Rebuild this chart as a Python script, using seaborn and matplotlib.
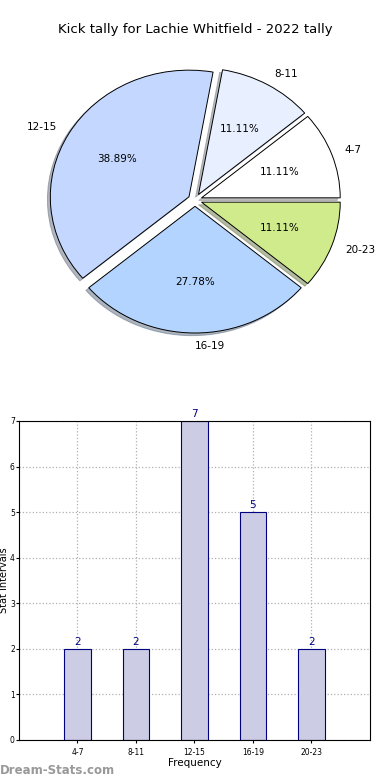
import numpy as np
import pandas as pd
import seaborn as sns
import matplotlib
matplotlib.use("Agg")
import matplotlib.pyplot as plt


title = "Kick tally for Lachie Whitfield - 2022 tally"
intervals = ["4-7", "8-11", "12-15", "16-19", "20-23"]
counts = [2, 2, 7, 5, 2]
slice_colors = ["#ffffff", "#e8f0ff", "#c4d8ff", "#b3d4ff", "#cfeb8b"]

sns.set_style("white")
plt.rcParams["font.family"] = ["DejaVu Sans"]
plt.rcParams["text.color"] = "black"
plt.rcParams["axes.labelcolor"] = "black"
plt.rcParams["xtick.color"] = "black"
plt.rcParams["ytick.color"] = "black"

fig = plt.figure(figsize=(3.9, 7.8), dpi=100)

# pie on top
ax1 = fig.add_axes([0.0555, 0.5406, 0.889, 0.406])
wedges, texts, autotexts = ax1.pie(
    counts, labels=intervals, colors=slice_colors, autopct="%.2f%%",
    explode=[0.05] * len(counts),
    shadow={"ox": -0.015, "oy": -0.015, "shade": 0.5}, startangle=0,
    wedgeprops={"edgecolor": "black", "linewidth": 0.7},
    textprops={"fontsize": 7.5},
)
ax1.set_aspect("auto")
ax1.set_xlim(-1.25, 1.25)
ax1.set_ylim(-1.25, 1.25)

fig.text(0.5, 1 - 30 / 780, title, ha="center", va="center", fontsize=9.5)

# bars below
ax2 = fig.add_axes([0.0487, 0.0513, 0.9, 0.409])
df = pd.DataFrame({"interval": intervals, "count": counts})
sns.barplot(data=df, x="interval", y="count", ax=ax2, color="#ccccE5",
            saturation=1, width=0.45, edgecolor="navy", linewidth=0.8, zorder=2)
ax2.set_xlim(-1, 5)
ax2.set_ylim(0, 7)
for i, v in enumerate(counts):
    ax2.text(i, v + 0.05, str(v), ha="center", va="bottom", color="navy", fontsize=7.5)
ax2.grid(True, linestyle=":", color="#b0b0b0", linewidth=0.9, zorder=0)
ax2.set_axisbelow(True)
ax2.tick_params(labelsize=5.5, length=2, left=True, bottom=True)
ax2.tick_params(axis="y", pad=1)
ax2.set_xlabel("Frequency", fontsize=7.5, labelpad=1)
ax2.set_ylabel("Stat Intervals", fontsize=7)
ax2.yaxis.set_label_coords(-0.029, 0.5)
for s in ax2.spines.values():
    s.set_color("black")
    s.set_linewidth(0.8)

fig.text(0.0, 1 - 770 / 780, "Dream-Stats.com", ha="left", va="center", fontsize=8.5,
         color="#999999", fontweight="bold")

fig.savefig("out.png", dpi=100)
